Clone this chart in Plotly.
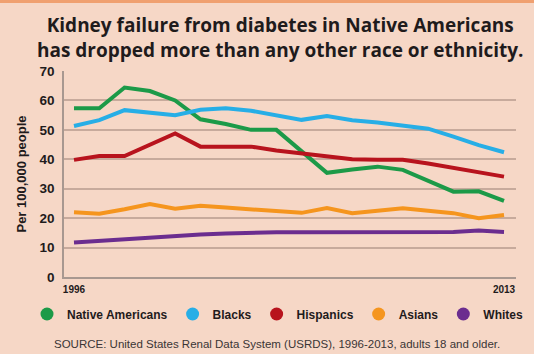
import plotly.graph_objects as go

years = list(range(1996, 2014))
native_americans = [57.3, 57.3, 64.4, 63.2, 60.0, 53.6, 52.0, 50.0, 50.0, 42.8, 35.4, 36.5, 37.5, 36.4, 32.6, 29.0, 29.1, 25.9]
blacks = [51.3, 53.3, 56.7, 55.8, 55.0, 56.8, 57.3, 56.5, 55.0, 53.4, 54.7, 53.3, 52.5, 51.6, 50.4, 47.7, 44.8, 42.4]
hispanics = [39.8, 41.1, 41.1, 45.0, 48.8, 44.3, 44.3, 44.3, 43.0, 42.0, 41.0, 40.0, 39.8, 39.8, 38.6, 37.1, 35.6, 34.1]
asians = [22.0, 21.5, 23.0, 24.8, 23.2, 24.2, 23.6, 23.0, 22.4, 21.8, 23.4, 21.7, 22.5, 23.4, 22.5, 21.7, 20.0, 21.1]
whites = [11.7, 12.3, 12.9, 13.4, 13.9, 14.4, 14.8, 15.1, 15.2, 15.2, 15.2, 15.2, 15.2, 15.2, 15.2, 15.3, 15.8, 15.3]

series_names = ["Native Americans", "Blacks", "Hispanics", "Asians", "Whites"]
series_values = [native_americans, blacks, hispanics, asians, whites]
colors = ["#1c9a48", "#27aee6", "#b8131d", "#f5951e", "#6b2d8f"]

y_ticks = [0, 10, 20, 30, 40, 50, 60, 70]
x_ticks = [1996, 2013]
title_lines = ["Kidney failure from diabetes in Native Americans",
               "has dropped more than any other race or ethnicity."]
source_text = "SOURCE: United States Renal Data System (USRDS), 1996-2013, adults 18 and older."

W, H = 534, 354
ML, MR, MT, MB = 64, 18, 71, 77
PW, PH = W - ML - MR, H - MT - MB


def px(x):
    return (x - ML) / PW


def py(y):
    return (H - MB - y) / PH


bg = "#f6d7c6"
ink = "#1f1b1c"
fig = go.Figure()
for name, vals, col in zip(series_names, series_values, colors):
    fig.add_trace(go.Scatter(x=years, y=vals, mode="lines", line=dict(color=col, width=4),
                             showlegend=False, hoverinfo="skip"))
for name, col in zip(series_names, colors):
    fig.add_trace(go.Scatter(x=[None], y=[None], mode="markers", name=f"<b>{name}</b>",
                             marker=dict(color=col, size=13, symbol="circle")))

fig.update_layout(
    width=W, height=H,
    margin=dict(l=ML, r=MR, t=MT, b=MB),
    paper_bgcolor=bg, plot_bgcolor=bg,
    font=dict(family="Liberation Sans, Arial, sans-serif", color=ink),
    legend=dict(orientation="h", x=px(27), xanchor="left",
                y=py(314), yanchor="middle",
                font=dict(size=12, color=ink, family="Liberation Sans, Arial, sans-serif"),
                bgcolor="rgba(0,0,0,0)", itemclick=False, tracegroupgap=0),
    showlegend=True,
)
fig.update_xaxes(range=[1995.605, 2013.474], tickvals=x_ticks, ticktext=[f"<b>{t}</b>" for t in x_ticks],
                 showgrid=False, zeroline=False, showline=True, linecolor="#a89890", linewidth=1.5,
                 tickfont=dict(size=10, color=ink), ticks="", ticklabelstandoff=2)
fig.update_yaxes(range=[0, 70], tickvals=y_ticks, ticktext=[f"<b>{t}</b>" for t in y_ticks],
                 showgrid=True, gridcolor="#c7aa9c", gridwidth=1.5, zeroline=False,
                 showline=True, linecolor="#a89890", linewidth=1.5,
                 tickfont=dict(size=13.5, color=ink), ticklabelstandoff=5,
                 title=dict(text="<b>Per 100,000 people</b>", font=dict(size=13, color=ink), standoff=10))
fig.add_annotation(text="<b>" + "<br>".join(title_lines) + "</b>", xref="paper", yref="paper",
                   x=px(280), y=py(37.5), xanchor="center", yanchor="middle",
                   showarrow=False, font=dict(size=19, color=ink, family="Open Sans, sans-serif"))
fig.add_annotation(text=source_text,
                   xref="paper", yref="paper", x=px(277), y=py(344),
                   xanchor="center", yanchor="middle",
                   showarrow=False, font=dict(size=11.5, color="#3a3535"))
fig.add_shape(type="rect", xref="paper", yref="paper", x0=px(-5), x1=px(540), y0=py(3), y1=py(-3),
              fillcolor="#f0a070", line=dict(width=0), layer="below")
fig.write_html("out.html")
